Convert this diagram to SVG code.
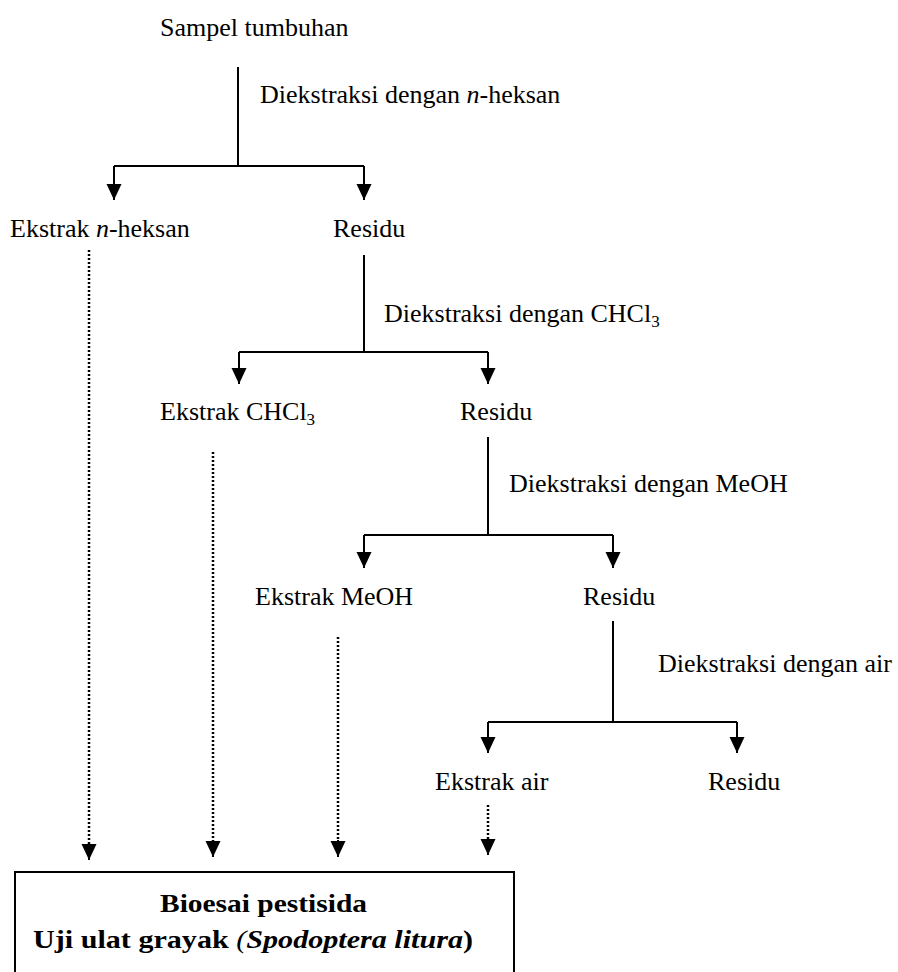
<svg xmlns="http://www.w3.org/2000/svg" width="898" height="972" viewBox="0 0 898 972">
<defs>
<marker id="arr" markerUnits="userSpaceOnUse" markerWidth="16" markerHeight="16" viewBox="0 0 16 16" refX="16" refY="8" orient="auto">
<path d="M0,0.5 L16,8 L0,15.5 Z" fill="#000"/>
</marker>
</defs>
<style>
text{font-family:'Liberation Serif','Times New Roman',Times,'DejaVu Serif',serif;font-size:26px;fill:#000}
.b{font-weight:bold}
.solid{stroke:#000;stroke-width:2;fill:none}
.dot{stroke:#000;stroke-width:2.5;stroke-dasharray:2 2;fill:none}
</style>
<rect width="898" height="972" fill="#fff"/>
<g id="connectors">
<path class="solid" d="M238,67 V166 M114,166 H364"/>
<path class="solid" d="M114,166 V200" marker-end="url(#arr)"/>
<path class="solid" d="M364,166 V200" marker-end="url(#arr)"/>
<path class="solid" d="M364,255 V352 M239,352 H488"/>
<path class="solid" d="M239,352 V384" marker-end="url(#arr)"/>
<path class="solid" d="M488,352 V384" marker-end="url(#arr)"/>
<path class="solid" d="M488,437 V535 M364,535 H613"/>
<path class="solid" d="M364,535 V568" marker-end="url(#arr)"/>
<path class="solid" d="M613,535 V568" marker-end="url(#arr)"/>
<path class="solid" d="M613,621 V722 M488,722 H737"/>
<path class="solid" d="M488,722 V753" marker-end="url(#arr)"/>
<path class="solid" d="M737,722 V753" marker-end="url(#arr)"/>
<path class="dot" d="M89,250 V845"/>
<path class="solid" d="M89,843 V860" marker-end="url(#arr)"/>
<path class="dot" d="M213,452 V842"/>
<path class="solid" d="M213,840 V857" marker-end="url(#arr)"/>
<path class="dot" d="M338,637 V842"/>
<path class="solid" d="M338,840 V857" marker-end="url(#arr)"/>
<path class="dot" d="M488,805 V840"/>
<path class="solid" d="M488,838 V855" marker-end="url(#arr)"/>
</g>
<g id="n-sampel"><text x="160" y="36">Sampel tumbuhan</text></g>
<g id="l-heksan"><text x="260" y="103">Diekstraksi dengan <tspan font-style="italic">n</tspan>-heksan</text></g>
<g id="n-ekstrak-heksan"><text x="10" y="237">Ekstrak <tspan font-style="italic">n</tspan>-heksan</text></g>
<g id="n-residu1"><text x="333" y="237">Residu</text></g>
<g id="l-chcl3"><text x="384" y="322">Diekstraksi dengan CHCl<tspan font-size="17" dy="5">3</tspan></text></g>
<g id="n-ekstrak-chcl3"><text x="160" y="420">Ekstrak CHCl<tspan font-size="17" dy="5">3</tspan></text></g>
<g id="n-residu2"><text x="460" y="420">Residu</text></g>
<g id="l-meoh"><text x="509" y="492">Diekstraksi dengan MeOH</text></g>
<g id="n-ekstrak-meoh"><text x="255" y="605">Ekstrak MeOH</text></g>
<g id="n-residu3"><text x="583" y="605">Residu</text></g>
<g id="l-air"><text x="658" y="672">Diekstraksi dengan air</text></g>
<g id="n-ekstrak-air"><text x="435" y="790">Ekstrak air</text></g>
<g id="n-residu4"><text x="708" y="790">Residu</text></g>
<g id="n-bioesai">
<rect x="15" y="872" width="499" height="130" fill="none" stroke="#000" stroke-width="2"/>
<text class="b" x="160" y="912" textLength="207" lengthAdjust="spacingAndGlyphs">Bioesai pestisida</text>
<text class="b" x="33" y="948" textLength="440" lengthAdjust="spacingAndGlyphs">Uji ulat grayak <tspan font-style="italic" font-weight="normal">(</tspan><tspan font-style="italic">Spodoptera litura</tspan>)</text>
</g>
</svg>
